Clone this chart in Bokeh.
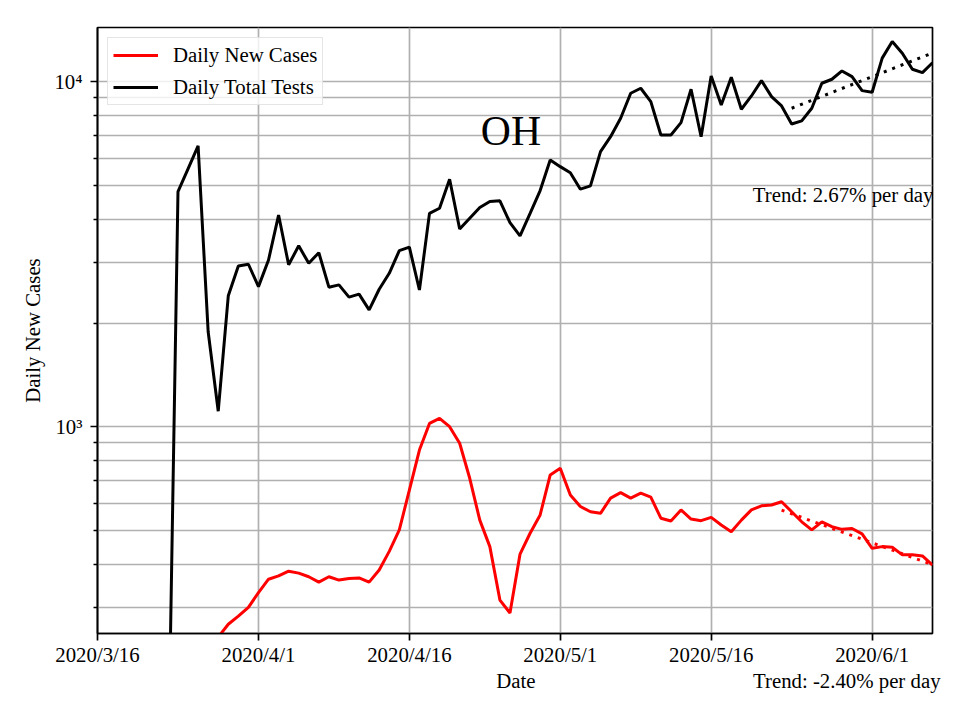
import pandas as pd
from bokeh.plotting import figure
from bokeh.models import Range1d, FixedTicker, CustomJSTickFormatter, Label, DatetimeAxis
from bokeh.embed import file_html
from bokeh.resources import INLINE

FONT = "Liberation Serif"
FS = "20.8px"

# ---- data ----
cases_start = "2020-03-28"
new_cases = [246, 268, 283, 300, 331, 362, 370, 382, 377, 368,
             355, 368, 360, 364, 365, 355, 385, 436, 503, 656,
             857, 1024, 1059, 1002, 897, 710, 537, 450, 315, 289,
             428, 492, 556, 726, 759, 635, 588, 568, 562, 622,
             645, 622, 643, 626, 544, 534, 575, 541, 535, 547,
             520, 497, 537, 575, 591, 594, 607, 568, 531, 503,
             531, 514, 505, 508, 490, 445, 450, 448, 426, 426,
             423, 398]

tests_start = "2020-03-23"
total_tests = [90, 4808, 5597, 6523, 1888, 1111, 2399, 2929, 2962, 2551,
               3048, 4113, 2951, 3350, 2980, 3200, 2542, 2581, 2378, 2426,
               2184, 2507, 2789, 3244, 3319, 2494, 4161, 4304, 5223, 3747,
               4027, 4324, 4500, 4523, 3910, 3578, 4161, 4843, 5940, 5682,
               5456, 4888, 4999, 6281, 6938, 7850, 9274, 9588, 8769, 7018,
               7018, 7621, 9524, 6938, 10410, 8576, 10318, 8333, 9107, 10087,
               9066, 8519, 7555, 7710, 8390, 9913, 10180, 10760, 10360, 9437,
               9336, 11720, 13090, 12110, 10880, 10640, 11370]

trend_cases_dates = ["2020-05-23", "2020-06-07"]
trend_cases_vals = [574, 399]
trend_tests_dates = ["2020-05-24", "2020-06-07"]
trend_tests_vals = [8390, 12130]

x_tick_dates = ["2020-03-16", "2020-04-01", "2020-04-16", "2020-05-01", "2020-05-16", "2020-06-01"]
x_tick_labels = ["2020/3/16", "2020/4/1", "2020/4/16", "2020/5/1", "2020/5/16", "2020/6/1"]
y_major = [1000, 10000]
y_major_labels = ["10\u00b3", "10\u2074"]
y_minor = [300, 400, 500, 600, 700, 800, 900,
           2000, 3000, 4000, 5000, 6000, 7000, 8000, 9000]

x_title = "Date"
y_title = "Daily New Cases"
state_name = "OH"
tests_trend_text = "Trend: 2.67% per day"
cases_trend_text = "Trend: -2.40% per day"

case_dates = pd.date_range(cases_start, periods=len(new_cases), freq="D")
test_dates = pd.date_range(tests_start, periods=len(total_tests), freq="D")

p = figure(width=944, height=704, x_axis_type="datetime", y_axis_type="log",
           output_backend="svg", toolbar_location=None,
           x_range=Range1d(pd.Timestamp("2020-03-16"), pd.Timestamp("2020-06-07")),
           y_range=Range1d(252, 14380),
           min_border_left=97, min_border_right=12, min_border_top=27, min_border_bottom=71)

p.line(case_dates, new_cases, line_color="#ff0000", line_width=3, legend_label="Daily New Cases")
p.line(test_dates, total_tests, line_color="#000000", line_width=3, legend_label="Daily Total Tests")
p.line(pd.to_datetime(trend_cases_dates), trend_cases_vals, line_color="#ff0000", line_width=3, line_dash="3 6")
p.line(pd.to_datetime(trend_tests_dates), trend_tests_vals, line_color="#000000", line_width=3, line_dash="3 6")

# axes
x_ticks_ms = [int(pd.Timestamp(d).value // 10**6) for d in x_tick_dates]
p.xaxis.ticker = FixedTicker(ticks=x_ticks_ms)
p.xaxis.formatter = CustomJSTickFormatter(args=dict(tk_ms=x_ticks_ms, tk_labels=x_tick_labels), code="""
for (let i = 0; i < tk_ms.length; i++) { if (Math.abs(tk_ms[i] - tick) < 1000) return tk_labels[i]; }
return "";
""")
p.yaxis.ticker = FixedTicker(ticks=y_major, minor_ticks=y_minor)
p.yaxis.major_label_overrides = {v: l for v, l in zip(y_major, y_major_labels)}

for ax in (p.xaxis, p.yaxis):
    ax.major_label_text_font = FONT
    ax.major_label_text_font_size = FS
    ax.major_label_text_color = "black"
    ax.axis_label_text_font = FONT
    ax.axis_label_text_font_size = FS
    ax.axis_label_text_font_style = "normal"
    ax.axis_label_text_color = "black"
    ax.axis_line_width = 1.7
    ax.axis_line_color = "black"
    ax.major_tick_line_color = "black"
    ax.major_tick_line_width = 1.7
    ax.major_tick_in = 0
    ax.major_tick_out = 7
    ax.minor_tick_line_color = "black"
    ax.minor_tick_line_width = 1.3
    ax.minor_tick_in = 0
    ax.minor_tick_out = 4

p.xaxis.minor_tick_line_color = None
p.yaxis.axis_label = y_title
p.xaxis.major_label_standoff = 2
p.yaxis.major_label_standoff = 8
p.yaxis.axis_label_standoff = 7

# second row below the date ticks: x title and the cases trend note share one row
row_ms = [int(pd.Timestamp("2020-04-26 14:00").value // 10**6),
          int(pd.Timestamp("2020-05-29 11:30").value // 10**6)]
row_texts = [x_title, cases_trend_text]
ax2 = DatetimeAxis(ticker=FixedTicker(ticks=row_ms),
                   formatter=CustomJSTickFormatter(args=dict(tk_ms=row_ms, tk_labels=row_texts), code="""
for (let i = 0; i < tk_ms.length; i++) { if (Math.abs(tk_ms[i] - tick) < 1000) return tk_labels[i]; }
return "";
"""))
ax2.axis_line_color = None
ax2.major_tick_line_color = None
ax2.minor_tick_line_color = None
ax2.major_tick_out = 0
ax2.major_tick_in = 0
ax2.major_label_standoff = 0
ax2.major_label_text_font = FONT
ax2.major_label_text_font_size = FS
ax2.major_label_text_color = "black"
p.add_layout(ax2, "below")

p.xgrid.grid_line_color = "#b0b0b0"
p.xgrid.grid_line_width = 1.7
p.ygrid.grid_line_color = "#b0b0b0"
p.ygrid.grid_line_width = 1.7
p.ygrid.minor_grid_line_color = "#b0b0b0"
p.ygrid.minor_grid_line_width = 1.7

p.outline_line_color = "black"
p.outline_line_width = 1.7
p.outline_line_alpha = 1

# legend
lg = p.legend[0]
lg.location = "top_left"
lg.margin = 10
lg.padding = 5
lg.spacing = 8
lg.label_text_font = FONT
lg.label_text_font_size = FS
lg.label_text_color = "black"
lg.glyph_width = 45
lg.glyph_height = 22
lg.label_height = 22
lg.label_standoff = 15
lg.border_line_color = "#cccccc"
lg.border_line_width = 1.5
lg.background_fill_alpha = 0.8

# texts inside the frame
p.add_layout(Label(x=pd.Timestamp("2020-04-26 02:24"), y=7195, text=state_name,
                   text_font=FONT, text_font_size="41.7px", text_align="center",
                   text_baseline="alphabetic", text_color="black"))
p.add_layout(Label(x=pd.Timestamp("2020-05-20 03:20"), y=4712, text=tests_trend_text,
                   text_font=FONT, text_font_size=FS, text_align="left",
                   text_baseline="alphabetic", text_color="black"))

open("out.html", "w").write(file_html(p, INLINE))
